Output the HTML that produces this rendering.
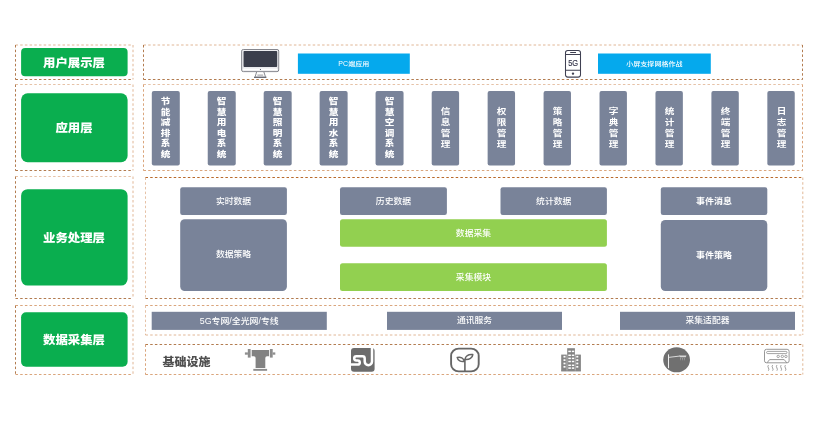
<!DOCTYPE html>
<html lang="zh-CN">
<head>
<meta charset="utf-8">
<title>系统架构</title>
<style>
html,body{margin:0;padding:0;background:#fff;}
#root{position:relative;width:824px;height:433px;overflow:hidden;font-family:"Liberation Sans","Noto Sans CJK SC",sans-serif;will-change:transform;}
.b{position:absolute;display:flex;align-items:center;justify-content:center;color:#fff;white-space:nowrap;box-sizing:border-box;}
.b span{display:block;}
.lab{font-size:12.4px;font-weight:900;line-height:14px;}
.lab span{position:relative;top:0.9px;left:-0.3px;transform:scaleY(0.95);}
.sm{font-size:7.05px;line-height:9px;font-weight:500;}
.sm span{position:relative;top:0.2px;transform:scaleY(0.8);}
.sm em{display:inline-block;font-style:normal;transform:scaleY(1.2);transform-origin:50% 76%;}
.m{font-size:8.8px;line-height:11px;font-weight:500;}
.m span{transform:scaleY(0.93);position:relative;top:0.4px;}
.v{font-size:9px;line-height:12px;font-weight:700;}
.v span{width:9px;white-space:normal;word-break:break-all;text-align:center;position:relative;top:0.5px;transform:scale(1.07,0.875);}
.vb{font-weight:900;}
.vn{font-weight:700;line-height:12.6px;}
.vn span{top:-0.1px;}
.vb span{top:0.2px;}
.m9{font-size:8.9px;}
.mb{font-weight:700;font-size:9px;}
.infra{position:absolute;font-size:12px;font-weight:900;color:#505050;line-height:16px;white-space:nowrap;transform:scaleY(0.96);}
svg{position:absolute;left:0;top:0;}
</style>
</head>
<body>
<div id="root">
<svg width="824" height="433" viewBox="0 0 824 433">
<g fill="none" stroke="#c47030" stroke-width="0.85" stroke-dasharray="2.5 2.2">
<line x1="15.5" y1="45.0" x2="133.0" y2="45.0" stroke-opacity="0.6"/>
<line x1="133.0" y1="45.0" x2="133.0" y2="79.5" stroke-opacity="0.6"/>
<line x1="15.5" y1="79.5" x2="133.0" y2="79.5" stroke-opacity="1" stroke="#a4632f"/>
<line x1="15.5" y1="45.0" x2="15.5" y2="79.5" stroke-opacity="1" stroke="#a4632f"/>
<line x1="143.5" y1="45.0" x2="802.5" y2="45.0" stroke-opacity="0.6"/>
<line x1="802.5" y1="45.0" x2="802.5" y2="79.5" stroke-opacity="1" stroke="#a4632f"/>
<line x1="143.5" y1="79.5" x2="802.5" y2="79.5" stroke-opacity="1" stroke="#a4632f"/>
<line x1="143.5" y1="45.0" x2="143.5" y2="79.5" stroke-opacity="1" stroke="#a4632f"/>
<line x1="15.5" y1="84.5" x2="133.0" y2="84.5" stroke-opacity="0.5"/>
<line x1="133.0" y1="84.5" x2="133.0" y2="170.5" stroke-opacity="0.6"/>
<line x1="15.5" y1="170.5" x2="133.0" y2="170.5" stroke-opacity="1" stroke="#a4632f"/>
<line x1="15.5" y1="84.5" x2="15.5" y2="170.5" stroke-opacity="1" stroke="#a4632f"/>
<line x1="143.5" y1="84.5" x2="802.5" y2="84.5" stroke-opacity="0.5"/>
<line x1="802.5" y1="84.5" x2="802.5" y2="170.5" stroke-opacity="0.75"/>
<line x1="143.5" y1="170.5" x2="802.5" y2="170.5" stroke-opacity="0.75"/>
<line x1="143.5" y1="84.5" x2="143.5" y2="170.5" stroke-opacity="0.75"/>
<line x1="15.5" y1="176.5" x2="133.0" y2="176.5" stroke-opacity="0.5"/>
<line x1="133.0" y1="176.5" x2="133.0" y2="298.5" stroke-opacity="0.6"/>
<line x1="15.5" y1="298.5" x2="133.0" y2="298.5" stroke-opacity="1" stroke="#a4632f"/>
<line x1="15.5" y1="176.5" x2="15.5" y2="298.5" stroke-opacity="1" stroke="#a4632f"/>
<line x1="145.5" y1="177.5" x2="802.8" y2="177.5" stroke-opacity="1" stroke="#b9692a" stroke-width="1"/>
<line x1="802.8" y1="177.5" x2="802.8" y2="298.5" stroke-opacity="0.6"/>
<line x1="145.5" y1="298.5" x2="802.8" y2="298.5" stroke-opacity="1" stroke="#a4632f"/>
<line x1="145.5" y1="177.5" x2="145.5" y2="298.5" stroke-opacity="0.5"/>
<line x1="15.5" y1="305.5" x2="133.0" y2="305.5" stroke-opacity="0.75"/>
<line x1="133.0" y1="305.5" x2="133.0" y2="374.5" stroke-opacity="0.6"/>
<line x1="15.5" y1="374.5" x2="133.0" y2="374.5" stroke-opacity="0.75"/>
<line x1="15.5" y1="305.5" x2="15.5" y2="374.5" stroke-opacity="1" stroke="#a4632f"/>
<line x1="145.5" y1="305.5" x2="802.8" y2="305.5" stroke-opacity="0.75"/>
<line x1="802.8" y1="305.5" x2="802.8" y2="335.0" stroke-opacity="0.6"/>
<line x1="145.5" y1="335.0" x2="802.8" y2="335.0" stroke-opacity="0.6"/>
<line x1="145.5" y1="305.5" x2="145.5" y2="335.0" stroke-opacity="0.5"/>
<line x1="145.5" y1="344.5" x2="802.8" y2="344.5" stroke-opacity="1" stroke="#a4632f"/>
<line x1="802.8" y1="344.5" x2="802.8" y2="374.5" stroke-opacity="0.6"/>
<line x1="145.5" y1="374.5" x2="802.8" y2="374.5" stroke-opacity="0.75"/>
<line x1="145.5" y1="344.5" x2="145.5" y2="374.5" stroke-opacity="0.75"/>
</g>
<rect x="21.1" y="48" width="106.5" height="28.2" rx="4" fill="#0aae4f"/>
<rect x="21.1" y="93.3" width="106.5" height="68.9" rx="6.5" fill="#0aae4f"/>
<rect x="21.1" y="189.2" width="106.5" height="96.4" rx="6.5" fill="#0aae4f"/>
<rect x="21.1" y="312.3" width="106.5" height="54.5" rx="5" fill="#0aae4f"/>
<rect x="297.9" y="53.5" width="111.9" height="20.3" rx="0" fill="#05a9ed"/>
<rect x="598" y="53.5" width="112.8" height="20.3" rx="0" fill="#05a9ed"/>
<rect x="151.8" y="91" width="28" height="74.6" rx="2" fill="#798399"/>
<rect x="207.74" y="91" width="28" height="74.6" rx="2" fill="#798399"/>
<rect x="263.68" y="91" width="28" height="74.6" rx="2" fill="#798399"/>
<rect x="319.62" y="91" width="28" height="74.6" rx="2" fill="#798399"/>
<rect x="375.56" y="91" width="28" height="74.6" rx="2" fill="#798399"/>
<rect x="431.7" y="91" width="27.4" height="74.6" rx="2" fill="#798399"/>
<rect x="487.64" y="91" width="27.4" height="74.6" rx="2" fill="#798399"/>
<rect x="543.58" y="91" width="27.4" height="74.6" rx="2" fill="#798399"/>
<rect x="599.52" y="91" width="27.4" height="74.6" rx="2" fill="#798399"/>
<rect x="655.46" y="91" width="27.4" height="74.6" rx="2" fill="#798399"/>
<rect x="711.4" y="91" width="27.4" height="74.6" rx="2" fill="#798399"/>
<rect x="767.34" y="91" width="27.4" height="74.6" rx="2" fill="#798399"/>
<rect x="180.2" y="187.3" width="106.7" height="27.7" rx="2.2" fill="#798399"/>
<rect x="340" y="187.3" width="106.9" height="27.7" rx="2.2" fill="#798399"/>
<rect x="500.5" y="187.3" width="106.4" height="27.7" rx="2.2" fill="#798399"/>
<rect x="660.8" y="187.3" width="106.5" height="27.7" rx="2.2" fill="#798399"/>
<rect x="180.2" y="219.3" width="106.7" height="71.7" rx="4.5" fill="#798399"/>
<rect x="660.8" y="220" width="106.5" height="71" rx="4.5" fill="#798399"/>
<rect x="340" y="219.3" width="266.9" height="27.4" rx="2.5" fill="#92d050"/>
<rect x="340" y="263.3" width="266.9" height="27.7" rx="2.5" fill="#92d050"/>
<rect x="151.7" y="311.8" width="175.1" height="18.1" rx="0" fill="#798399"/>
<rect x="387" y="311.8" width="175" height="18.1" rx="0" fill="#798399"/>
<rect x="620" y="311.8" width="175" height="18.1" rx="0" fill="#798399"/>
<!-- monitor -->
<g>
<rect x="241.7" y="49.5" width="37" height="22.1" rx="1.6" fill="#fff" stroke="#6a6b74" stroke-width="0.9"/>
<rect x="242.6" y="50.3" width="35.2" height="20.5" rx="1" fill="none" stroke="#d9d9de" stroke-width="0.6"/>
<rect x="243.5" y="51" width="33.7" height="16" rx="0.8" fill="#3b3e4b"/>
<path d="M242.4 67.9 H278" stroke="#c4c4cc" stroke-width="0.6"/>
<circle cx="260.4" cy="69.5" r="0.55" fill="#3b3e4b"/>
<path d="M256.6 72 L255.2 76.6 M263.9 72 L265.4 76.6" fill="none" stroke="#6a6b74" stroke-width="0.8"/>
<path d="M257.4 75.1 H263.2" stroke="#6a6b74" stroke-width="0.7"/>
<path d="M254 77.2 H266.4" stroke="#3b3e4b" stroke-width="1.1"/>
</g>
<!-- phone -->
<g fill="none" stroke="#3f4052" stroke-width="1.05">
<rect x="565.5" y="50.5" width="15" height="26.6" rx="2.3"/>
<path d="M565.5 54.5 H580.5 M565.5 70.3 H580.5 M570.2 52.5 H576"/>
<circle cx="573" cy="73.6" r="0.7" fill="#3f4052"/>
</g>
<text x="573.2" y="65.9" font-family="'Liberation Sans',sans-serif" font-weight="normal" font-size="9.5" fill="#34354a" stroke="#34354a" stroke-width="0.15" text-anchor="middle" textLength="10" lengthAdjust="spacingAndGlyphs">5G</text>
<!-- pipe tee -->
<g fill="#828282">
<rect x="244.9" y="352.4" width="3" height="2.3" fill="#8e8e8e"/>
<rect x="247.8" y="349" width="2.8" height="8.6" fill="#8c8c8c"/>
<path d="M251.7 350 H269.1 V356.2 H267 Q265.3 356.2 265.3 358 V368 H255.6 V358 Q255.6 356.2 253.9 356.2 H251.7 Z"/>
<rect x="269.9" y="349" width="2.8" height="8.6" fill="#8c8c8c"/>
<rect x="272.6" y="352.4" width="2.7" height="2.3" fill="#8e8e8e"/>
<rect x="253.3" y="368.9" width="13.8" height="1.9" fill="#8c8c8c"/>
</g>
<!-- stumble -->
<g>
<rect x="351" y="347.9" width="23.6" height="23.8" rx="3" fill="#6c6c6c"/>
<path d="M351 364.6 H357.7 A2.1 2.1 0 0 0 357.7 360.4 H356.3 A2.1 2.1 0 0 1 356.3 356.2 H362.5 Q364.7 356.2 364.7 358.4 V361.6 A3.65 3.65 0 0 0 372 361.6 V347.9" fill="none" stroke="#fff" stroke-width="2.5"/>
</g>
<!-- sprout -->
<g fill="none" stroke="#666" stroke-width="1.9" stroke-linecap="round" stroke-linejoin="round">
<rect x="451.1" y="348.6" width="27.6" height="22.8" rx="7.6" ry="7.2"/>
<path d="M464.9 370.8 V359.3" stroke-width="1.6"/>
<path d="M464.3 361.4 C461 362.2 457.8 360.6 457.2 357.4 C460.6 356.6 463.8 358 464.3 361.4 Z" stroke-width="1.5"/>
<path d="M465.2 359.4 C465 356.2 468.4 354 472.8 354.6 C472.6 357.8 469.2 359.9 465.2 359.4 Z" stroke-width="1.5"/>
</g>
<!-- building -->
<g>
<rect x="567.2" y="348.2" width="7.7" height="23" fill="#848484"/>
<rect x="561.2" y="354.6" width="5.6" height="16.6" fill="#868686"/>
<rect x="575.3" y="354.6" width="5.6" height="16.6" fill="#868686"/>
<rect x="561.2" y="370.4" width="19.7" height="0.9" fill="#868686"/>
<g fill="#fff">
<rect x="568.3" y="350.65" width="2.6" height="1.5"/><rect x="571.8" y="350.65" width="2.4" height="1.5"/>
<rect x="568.3" y="354.55" width="2.6" height="1.5"/><rect x="571.8" y="354.55" width="2.4" height="1.5"/>
<rect x="568.3" y="357.65" width="2.6" height="1.5"/><rect x="571.8" y="357.65" width="2.4" height="1.5"/>
<rect x="568.3" y="360.75" width="2.6" height="1.5"/><rect x="571.8" y="360.75" width="2.4" height="1.5"/>
<rect x="568.3" y="364.55" width="2.6" height="1.5"/><rect x="571.8" y="364.55" width="2.4" height="1.5"/>
<rect x="568.3" y="367.35" width="2.6" height="1.5"/><rect x="571.8" y="367.35" width="2.4" height="1.5"/>
<rect x="563.5" y="355.85" width="2" height="1.7"/><rect x="576.3" y="355.85" width="2" height="1.7"/>
<rect x="563.5" y="359.25" width="2" height="1.7"/><rect x="576.3" y="359.25" width="2" height="1.7"/>
<rect x="563.5" y="362.65" width="2" height="1.7"/><rect x="576.3" y="362.65" width="2" height="1.7"/>
<rect x="563.5" y="365.95" width="2" height="1.7"/><rect x="576.3" y="365.95" width="2" height="1.7"/>
</g>
</g>
<!-- street lamp -->
<g>
<ellipse cx="676.6" cy="359.8" rx="13.4" ry="12.5" fill="#707070"/>
<path d="M668.5 368.2 V354.4" stroke="#fff" stroke-width="0.9" fill="none"/>
<path d="M668.5 357.4 L680.2 356" stroke="#f4f4f4" stroke-width="0.8" fill="none"/>
<path d="M679.4 355.4 H686.4 L685.8 357.3 H680 Z" fill="#d8d8d8"/>
<path d="M680.6 358 V360.2 M682.5 358 V360.4 M684.4 358 V360.2" stroke="#bdbdbd" stroke-width="0.7" stroke-dasharray="0.8 0.6" fill="none"/>
</g>
<!-- air conditioner -->
<g fill="none" stroke="#858585" stroke-width="0.85">
<rect x="764.5" y="349.3" width="24.6" height="13.5" rx="2"/>
<rect x="766.6" y="351.4" width="20.4" height="2.2" rx="1.1" stroke-width="0.75"/>
<circle cx="778.2" cy="356.4" r="1.2" stroke-width="0.75"/><circle cx="782.3" cy="356.4" r="1.2" stroke-width="0.75"/><circle cx="785.9" cy="356.4" r="1.2" stroke-width="0.75"/>
<path d="M767 362.8 L769.6 359.6 H784.2 L786.8 362.8"/>
<path d="M768.4 365.1 q-1 1.4 0 2.8 q1 1.4 0 2.8 M772.6 365.1 q-1 1.4 0 2.8 q1 1.4 0 2.8 M776.9 365.1 q-1 1.4 0 2.8 q1 1.4 0 2.8 M781.1 365.1 q-1 1.4 0 2.8 q1 1.4 0 2.8 M785.4 365.1 q-1 1.4 0 2.8 q1 1.4 0 2.8" stroke-width="0.8"/>
</g>

</svg>
<div class="b lab" style="left:21.1px;top:48px;width:106.5px;height:28.2px"><span>用户展示层</span></div>
<div class="b lab" style="left:21.1px;top:93.3px;width:106.5px;height:68.9px"><span style="margin:-1.4px 0px 0 0px">应用层</span></div>
<div class="b lab" style="left:21.1px;top:189.2px;width:106.5px;height:96.4px"><span>业务处理层</span></div>
<div class="b lab" style="left:21.1px;top:312.3px;width:106.5px;height:54.5px"><span style="margin:-1px 0px 0 0px">数据采集层</span></div>
<div class="b sm" style="left:297.9px;top:53.5px;width:111.9px;height:20.3px"><span><em>PC</em>端应用</span></div>
<div class="b sm" style="left:598px;top:53.5px;width:112.8px;height:20.3px"><span>小屏支撑网格作战</span></div>
<div class="b v vb" style="left:151.8px;top:91px;width:28px;height:74.6px"><span>节能减排系统</span></div>
<div class="b v vb" style="left:207.74px;top:91px;width:28px;height:74.6px"><span>智慧用电系统</span></div>
<div class="b v vb" style="left:263.68px;top:91px;width:28px;height:74.6px"><span>智慧照明系统</span></div>
<div class="b v vb" style="left:319.62px;top:91px;width:28px;height:74.6px"><span>智慧用水系统</span></div>
<div class="b v vb" style="left:375.56px;top:91px;width:28px;height:74.6px"><span>智慧空调系统</span></div>
<div class="b v vn" style="left:431.7px;top:91px;width:27.4px;height:74.6px"><span>信息管理</span></div>
<div class="b v vn" style="left:487.64px;top:91px;width:27.4px;height:74.6px"><span>权限管理</span></div>
<div class="b v vn" style="left:543.58px;top:91px;width:27.4px;height:74.6px"><span>策略管理</span></div>
<div class="b v vn" style="left:599.52px;top:91px;width:27.4px;height:74.6px"><span>字典管理</span></div>
<div class="b v vn" style="left:655.46px;top:91px;width:27.4px;height:74.6px"><span>统计管理</span></div>
<div class="b v vn" style="left:711.4px;top:91px;width:27.4px;height:74.6px"><span>终端管理</span></div>
<div class="b v vn" style="left:767.34px;top:91px;width:27.4px;height:74.6px"><span>日志管理</span></div>
<div class="b m" style="left:180.2px;top:187.3px;width:106.7px;height:27.7px"><span>实时数据</span></div>
<div class="b m" style="left:340px;top:187.3px;width:106.9px;height:27.7px"><span>历史数据</span></div>
<div class="b m" style="left:500.5px;top:187.3px;width:106.4px;height:27.7px"><span>统计数据</span></div>
<div class="b m mb" style="left:660.8px;top:187.3px;width:106.5px;height:27.7px"><span style="margin:0.6px 0px 0 0px">事件消息</span></div>
<div class="b m" style="left:180.2px;top:219.3px;width:106.7px;height:71.7px"><span style="margin:-2.6px 0px 0 0px">数据策略</span></div>
<div class="b m mb" style="left:660.8px;top:220px;width:106.5px;height:71px"><span style="margin:-1.4px 0px 0 0px">事件策略</span></div>
<div class="b m" style="left:340px;top:219.3px;width:266.9px;height:27.4px"><span>数据采集</span></div>
<div class="b m" style="left:340px;top:263.3px;width:266.9px;height:27.7px"><span style="margin:-0.6px 0px 0 0px">采集模块</span></div>
<div class="b m m9" style="left:151.7px;top:311.8px;width:175.1px;height:18.1px"><span style="margin:-0.4px 0px 0 0px">5G专网/全光网/专线</span></div>
<div class="b m" style="left:387px;top:311.8px;width:175px;height:18.1px"><span style="margin:-0.8px 0px 0 0px">通讯服务</span></div>
<div class="b m" style="left:620px;top:311.8px;width:175px;height:18.1px"><span style="margin:-0.8px 0px 0 0px">采集适配器</span></div>
<div class="infra" style="left:162.4px;top:354.3px;">基础设施</div>
</div>
</body>
</html>
